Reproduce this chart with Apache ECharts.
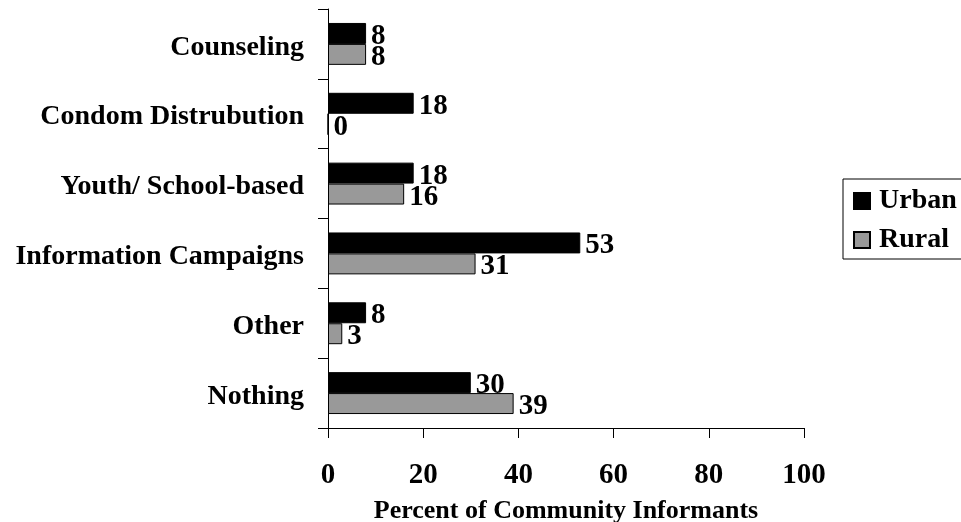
<!DOCTYPE html>
<html>
<head>
<meta charset="utf-8">
<script src="https://cdn.jsdelivr.net/npm/echarts@6/dist/echarts.min.js"></script>
<style>
  html, body { margin: 0; padding: 0; background: #fff; }
  #chart { width: 961px; height: 522px; }
</style>
</head>
<body>
<div id="chart"></div>
<script>
// Program types, listed top to bottom
const categories = ['Counseling', 'Condom Distrubution', 'Youth/ School-based', 'Information Campaigns', 'Other', 'Nothing'];
const urbanValues = [8, 18, 18, 53, 8, 30];
const ruralValues = [8, 0, 16, 31, 3, 39];
const xTicks = [0, 20, 40, 60, 80, 100];

const FONT = '"Liberation Serif", "Times New Roman", serif';

const chart = echarts.init(document.getElementById('chart'), null, { renderer: 'canvas' });

const valueLabel = {
  show: true,
  position: 'right',
  distance: 5,
  offset: [0, 3],
  color: '#000',
  fontFamily: FONT,
  fontWeight: 'bold',
  fontSize: 29
};

chart.setOption({
  animation: false,
  backgroundColor: '#fff',
  grid: { left: 328, top: 9, width: 476, height: 419, containLabel: false, outerBoundsMode: 'none' },
  legend: {
    orient: 'vertical',
    left: 843,
    top: 179,
    padding: [8, 40, 5, 10],
    itemGap: 11,
    itemWidth: 16,
    itemHeight: 16,
    borderColor: '#000',
    borderWidth: 1,
    icon: 'rect',
    textStyle: { fontFamily: FONT, fontWeight: 'bold', fontSize: 28, color: '#000', padding: [0, 0, 0, 4] },
    data: ['Urban', 'Rural']
  },
  xAxis: {
    type: 'value',
    min: xTicks[0],
    max: xTicks[xTicks.length - 1],
    interval: 20,
    name: 'Percent of Community Informants',
    nameLocation: 'middle',
    nameGap: 70,
    nameTextStyle: { fontFamily: FONT, fontWeight: 'bold', fontSize: 26, color: '#000' },
    axisLine: { show: true, lineStyle: { color: '#000', width: 1 } },
    axisTick: { show: true, length: 10, inside: false, lineStyle: { color: '#000' } },
    axisLabel: { margin: 33, fontFamily: FONT, fontWeight: 'bold', fontSize: 29, color: '#000' },
    splitLine: { show: false }
  },
  yAxis: {
    type: 'category',
    inverse: true,
    data: categories,
    axisLine: { show: true, lineStyle: { color: '#000', width: 1 } },
    axisTick: { show: true, length: 10, alignWithLabel: false, lineStyle: { color: '#000' } },
    axisLabel: {
      margin: 24,
      color: '#000',
      formatter: (v) => '{c|' + v + '}',
      rich: {
        c: { fontFamily: FONT, fontWeight: 'bold', fontSize: 28, color: '#000', padding: [7, 0, 0, 0] }
      }
    }
  },
  series: [
    {
      name: 'Urban',
      type: 'bar',
      data: urbanValues,
      barGap: '0%',
      barCategoryGap: '40%',
      itemStyle: { color: '#000', borderColor: '#000', borderWidth: 1 },
      label: valueLabel
    },
    {
      name: 'Rural',
      type: 'bar',
      data: ruralValues,
      itemStyle: { color: '#999999', borderColor: '#000', borderWidth: 1 },
      label: valueLabel
    }
  ]
});
</script>
</body>
</html>
